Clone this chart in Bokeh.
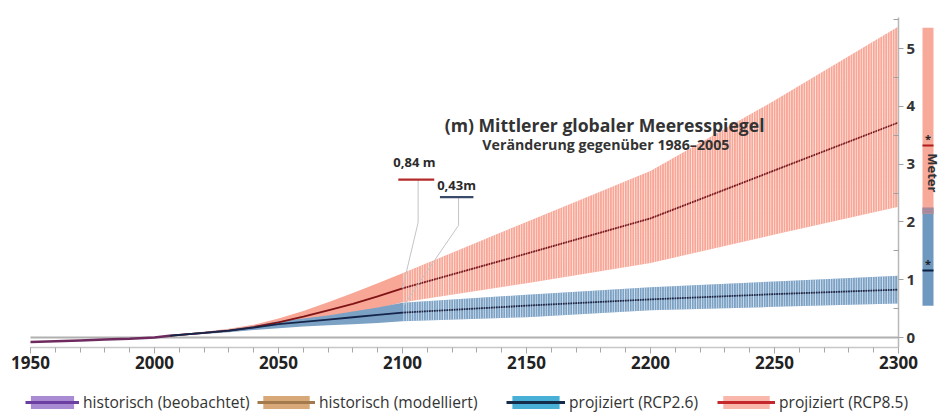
import math
from bokeh.plotting import figure
from bokeh.models import Range1d, FixedTicker, Legend, LegendItem
from bokeh.layouts import row, column
from bokeh.embed import file_html
from bokeh.resources import INLINE
from bokeh.core.properties import value

# ---------------- data ----------------
hist_years = [1950, 1960, 1970, 1980, 1990, 2000, 2006]
hist_obs = [-0.08, -0.065, -0.05, -0.035, -0.02, 0.0, 0.03]

proj_years = [2006, 2020, 2030, 2040, 2050, 2060, 2070, 2080, 2090, 2100, 2150, 2200, 2250, 2300]
rcp85_med = [0.03, 0.08, 0.12, 0.18, 0.26, 0.36, 0.47, 0.58, 0.71, 0.85, 1.45, 2.06, 2.89, 3.72]
rcp85_low = [0.02, 0.07, 0.10, 0.15, 0.20, 0.26, 0.33, 0.41, 0.50, 0.61, 0.94, 1.29, 1.78, 2.26]
rcp85_high = [0.04, 0.10, 0.15, 0.22, 0.33, 0.46, 0.61, 0.77, 0.94, 1.11, 2.00, 2.88, 4.10, 5.38]
rcp26_med = [0.03, 0.08, 0.12, 0.17, 0.23, 0.27, 0.31, 0.35, 0.39, 0.43, 0.55, 0.66, 0.75, 0.83]
rcp26_low = [0.02, 0.06, 0.09, 0.13, 0.16, 0.19, 0.21, 0.23, 0.25, 0.28, 0.35, 0.47, 0.53, 0.59]
rcp26_high = [0.04, 0.10, 0.14, 0.20, 0.28, 0.33, 0.38, 0.45, 0.52, 0.60, 0.74, 0.87, 0.97, 1.07]

# ranges shown in the side bars (2300)
bar_names = ["RCP2.6", "RCP8.5"]
bar_low = [0.55, 2.14]
bar_high = [2.25, 5.36]
bar_med = [1.16, 3.32]
bar_star = [1.28, 3.44]

x_ticks = [1950, 2000, 2050, 2100, 2150, 2200, 2250, 2300]
y_ticks = [0, 1, 2, 3, 4, 5]

title = "(m) Mittlerer globaler Meeresspiegel"
subtitle = "Veränderung gegenüber 1986–2005"
label_2100 = ["0,84 m", "0,43m"]
legend_labels = ["historisch (beobachtet)", "historisch (modelliert)",
                 "projiziert (RCP2.6)", "projiziert (RCP8.5)"]

# ---------------- styles ----------------
FONT = "Open Sans"
RED_FILL = "#f8a696"
BLUE_FILL = "#7ba1c5"
RED_LINE = "#7f1416"
BLUE_LINE = "#15264a"
HIST_LINE = "#6e2a5e"
OVERLAP = "#a88a9d"
STRIPE_FROM = 2100

x0, x1 = x_ticks[0], x_ticks[-1]
px_per_year = 2.48
px_per_m = 57.8
frame_w, frame_h = 890, 339
xr = Range1d(x1 - frame_w / px_per_year, x1)
ylo = -10 / px_per_m
yr = Range1d(ylo, ylo + frame_h / px_per_m)

p = figure(frame_width=frame_w, frame_height=frame_h, x_range=xr, y_range=yr,
           y_axis_location="right", output_backend="svg", toolbar_location=None,
           min_border_left=8, min_border_top=8, min_border_right=22, min_border_bottom=34,
           outline_line_color=None, background_fill_color="white")
p.xgrid.visible = False
p.ygrid.visible = False

# axes
xa = p.xaxis[0]
xa.ticker = FixedTicker(ticks=x_ticks, minor_ticks=list(range(x0, x1 + 1, 10)))
xa.bounds = (x0, x1)
xa.axis_line_color = "#c8c8c8"
xa.axis_line_width = 1.5
xa.major_tick_line_color = "#a8a8a8"
xa.minor_tick_line_color = "#a8a8a8"
xa.major_tick_in = 0
xa.major_tick_out = 6
xa.minor_tick_in = 0
xa.minor_tick_out = 5
xa.major_label_text_font = FONT
xa.major_label_text_font_style = "bold"
xa.major_label_text_font_size = "17px"
xa.major_label_text_color = "#222222"
xa.major_label_standoff = 2

ya = p.yaxis[0]
ya.ticker = FixedTicker(ticks=y_ticks, minor_ticks=[t + 0.5 for t in y_ticks])
ya.bounds = (ylo, y_ticks[-1] + 0.53)
ya.axis_line_color = "#b8b8b8"
ya.axis_line_width = 1.5
ya.major_tick_line_color = "#a0a0a0"
ya.minor_tick_line_color = "#a0a0a0"
ya.major_tick_in = 0
ya.major_tick_out = 5
ya.minor_tick_in = 5
ya.minor_tick_out = 0
ya.major_label_text_font = FONT
ya.major_label_text_font_style = "bold"
ya.major_label_text_font_size = "15px"
ya.major_label_text_color = "#333333"
ya.major_label_standoff = 3

# zero line
p.line([x0, x1], [0, 0], line_color="#b0b0b0", line_width=2)

# bands
p.varea(x=proj_years, y1=rcp85_low, y2=rcp85_high, fill_color=RED_FILL)
p.varea(x=proj_years, y1=rcp26_low, y2=rcp26_high, fill_color=BLUE_FILL)

# median lines
p.line(hist_years, hist_obs, line_color=HIST_LINE, line_width=2.5)
p.line(proj_years, rcp85_med, line_color=RED_LINE, line_width=1.8)
p.line(proj_years, rcp26_med, line_color=BLUE_LINE, line_width=1.8)

# white stripes over the post-2100 part
sel = [i for i, y in enumerate(proj_years) if y >= STRIPE_FROM]
for lo, hi in ((rcp85_low, rcp85_high), (rcp26_low, rcp26_high)):
    p.varea(x=[proj_years[i] for i in sel], y1=[lo[i] for i in sel], y2=[hi[i] for i in sel],
            fill_alpha=0, hatch_pattern="vertical_line", hatch_color="white",
            hatch_scale=px_per_year, hatch_weight=0.8, hatch_alpha=0.9)

# annotation for 2100 values
i2100 = proj_years.index(2100)
ends = [(2100, rcp85_med[i2100]), (2100, rcp26_med[i2100] + 0.12)]
lab_x = [2104.8, 2121.8]
lab_y = [3.04, 2.63]
bar_y = [2.73, 2.43]
bar_half = [6.5, 6.0]
bend_y = [1.99, 1.94]
lab_cols = ["#b52a2a", "#3a4a6a"]
for k in range(2):
    cx = lab_x[k] + (1.5 if k == 0 else 0.8)
    p.line([cx, cx, ends[k][0] + 0.4 * k], [bar_y[k], bend_y[k], ends[k][1]],
           line_color="#c4c4c4", line_width=1)
    p.line([cx - bar_half[k] - 1.5, cx + bar_half[k]], [bar_y[k], bar_y[k]],
           line_color=lab_cols[k], line_width=2.2)
p.text(x=lab_x, y=lab_y, text=label_2100, text_font=value(FONT), text_font_style="bold",
       text_font_size="13px", text_color="#2a2a2a", text_align="center", text_baseline="middle")

# titles
p.text(x=[2181.5], y=[3.67], text=[title], text_font=value(FONT), text_font_style="bold",
       text_font_size="17.6px", text_color="#333333", text_align="center", text_baseline="middle")
p.text(x=[2182], y=[3.34], text=[subtitle], text_font=value(FONT), text_font_style="bold",
       text_font_size="14.2px", text_color="#333333", text_align="center", text_baseline="middle")

# ---------------- side bars ----------------
s = figure(frame_width=26, frame_height=frame_h, x_range=Range1d(0, 26), y_range=yr,
           x_axis_type=None, y_axis_type=None, output_backend="svg", toolbar_location=None,
           min_border=0, min_border_top=8, outline_line_color=None)
s.xgrid.visible = False
s.ygrid.visible = False
bl, br = 2, 13
s.quad(left=bl, right=br, bottom=bar_low[0], top=bar_high[0], fill_color="#6f98bf", line_color=None)
s.quad(left=bl, right=br, bottom=bar_low[1], top=bar_high[1], fill_color="#f7a99a", line_color=None)
s.quad(left=bl, right=br, bottom=max(bar_low), top=min(bar_high), fill_color=OVERLAP, line_color=None)
s.segment(x0=[bl, bl], x1=[br, br], y0=bar_med, y1=bar_med,
          line_color=["#0c1f3f", "#b01c1c"], line_width=2)
s.text(x=[(bl + br) / 2] * 2, y=bar_star, text=["*", "*"], text_font=value(FONT),
       text_font_style="bold", text_font_size="11px", text_color="#222222",
       text_align="center", text_baseline="middle")
s.text(x=[12.3], y=[2.85], text=["Meter"], angle=-math.pi / 2, text_font=value(FONT),
       text_font_style="bold", text_font_size="13px", text_color="#333333",
       text_align="center", text_baseline="alphabetic")

# ---------------- legend strip ----------------
lg = figure(frame_width=946, frame_height=34, x_axis_type=None, y_axis_type=None,
            x_range=Range1d(0, 1), y_range=Range1d(0, 1),
            output_backend="svg", toolbar_location=None, min_border=0, outline_line_color=None)
lg.xgrid.visible = False
lg.ygrid.visible = False
leg_fill = ["#a98bd3", "#d8a878", "#48b0d6", "#f9b6ab"]
leg_line = ["#6b3fa0", "#a27a4c", "#132c4a", "#c4282c"]
leg_pos = [25, 257, 506, 717]
leg_w = [54, 58, 59, 58]
nan = float("nan")
for lab, fc, lc, lx, gw in zip(legend_labels, leg_fill, leg_line, leg_pos, leg_w):
    ra = lg.varea(x=[nan, nan], y1=[nan, nan], y2=[nan, nan], fill_color=fc)
    rl = lg.line(x=[nan, nan], y=[nan, nan], line_color=lc, line_width=3)
    lgd = Legend(items=[LegendItem(label=lab, renderers=[ra, rl])], location=(lx, 2),
                 glyph_width=gw, glyph_height=16, label_standoff=4,
                 padding=0, margin=0, border_line_color=None, background_fill_alpha=0,
                 label_text_font=FONT, label_text_font_size="15.6px", label_text_color="#333333",
                 label_height=16)
    lg.add_layout(lgd)

layout = column(row(p, s), lg)
open("out.html", "w").write(file_html(layout, INLINE))
